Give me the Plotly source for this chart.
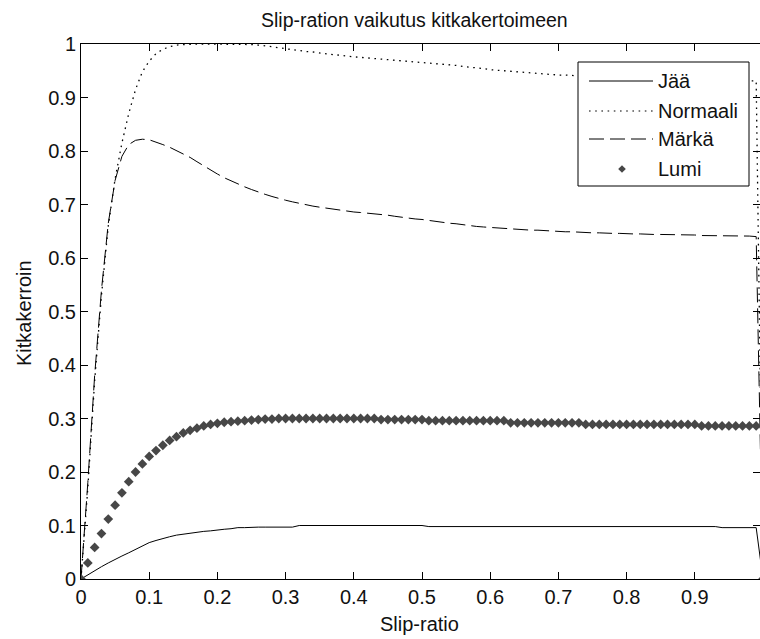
import plotly.graph_objects as go

# Slip ratio grid (0 ... 1, step 0.01)
slip = [
    0.00, 0.01, 0.02, 0.03, 0.04, 0.05, 0.06, 0.07, 0.08, 0.09,
    0.10, 0.11, 0.12, 0.13, 0.14, 0.15, 0.16, 0.17, 0.18, 0.19,
    0.20, 0.21, 0.22, 0.23, 0.24, 0.25, 0.26, 0.27, 0.28, 0.29,
    0.30, 0.31, 0.32, 0.33, 0.34, 0.35, 0.36, 0.37, 0.38, 0.39,
    0.40, 0.41, 0.42, 0.43, 0.44, 0.45, 0.46, 0.47, 0.48, 0.49,
    0.50, 0.51, 0.52, 0.53, 0.54, 0.55, 0.56, 0.57, 0.58, 0.59,
    0.60, 0.61, 0.62, 0.63, 0.64, 0.65, 0.66, 0.67, 0.68, 0.69,
    0.70, 0.71, 0.72, 0.73, 0.74, 0.75, 0.76, 0.77, 0.78, 0.79,
    0.80, 0.81, 0.82, 0.83, 0.84, 0.85, 0.86, 0.87, 0.88, 0.89,
    0.90, 0.91, 0.92, 0.93, 0.94, 0.95, 0.96, 0.97, 0.98, 0.99,
    1.00,
]

# Friction coefficient on ice
jaa = [
    0.000, 0.008, 0.016, 0.023, 0.030, 0.037, 0.043, 0.049, 0.055, 0.061,
    0.068, 0.072, 0.076, 0.079, 0.082, 0.084, 0.086, 0.088, 0.089, 0.090,
    0.092, 0.093, 0.094, 0.096, 0.096, 0.097, 0.097, 0.097, 0.097, 0.097,
    0.097, 0.097, 0.100, 0.100, 0.100, 0.100, 0.100, 0.100, 0.100, 0.100,
    0.100, 0.100, 0.100, 0.100, 0.100, 0.100, 0.100, 0.100, 0.100, 0.100,
    0.100, 0.098, 0.098, 0.098, 0.098, 0.098, 0.098, 0.098, 0.098, 0.098,
    0.098, 0.098, 0.098, 0.098, 0.098, 0.098, 0.098, 0.098, 0.098, 0.098,
    0.098, 0.098, 0.098, 0.098, 0.098, 0.098, 0.098, 0.098, 0.098, 0.098,
    0.098, 0.098, 0.098, 0.098, 0.098, 0.098, 0.098, 0.098, 0.098, 0.098,
    0.098, 0.098, 0.098, 0.098, 0.096, 0.096, 0.096, 0.096, 0.096, 0.096,
    0.000,
]

# Friction coefficient on dry asphalt
normaali = [
    0.000, 0.170, 0.370, 0.530, 0.660, 0.748, 0.815, 0.870, 0.915, 0.948,
    0.968, 0.982, 0.990, 0.995, 0.998, 0.999, 1.000, 1.000, 1.000, 1.000,
    1.000, 1.000, 1.000, 1.000, 1.000, 0.999, 0.998, 0.997, 0.995, 0.993,
    0.991, 0.989, 0.987, 0.986, 0.985, 0.983, 0.982, 0.980, 0.979, 0.977,
    0.976, 0.975, 0.974, 0.972, 0.971, 0.970, 0.969, 0.968, 0.967, 0.966,
    0.965, 0.964, 0.963, 0.962, 0.961, 0.960, 0.958, 0.957, 0.955, 0.954,
    0.952, 0.951, 0.950, 0.948, 0.947, 0.946, 0.945, 0.944, 0.943, 0.943,
    0.942, 0.942, 0.941, 0.940, 0.940, 0.939, 0.939, 0.938, 0.938, 0.937,
    0.937, 0.937, 0.936, 0.936, 0.936, 0.935, 0.935, 0.935, 0.934, 0.934,
    0.934, 0.933, 0.933, 0.933, 0.933, 0.932, 0.932, 0.932, 0.931, 0.931,
    0.000,
]

# Friction coefficient on wet asphalt
marka = [
    0.000, 0.180, 0.380, 0.540, 0.665, 0.745, 0.790, 0.812, 0.820, 0.822,
    0.821, 0.817, 0.812, 0.807, 0.801, 0.795, 0.788, 0.780, 0.772, 0.764,
    0.757, 0.750, 0.744, 0.738, 0.733, 0.728, 0.723, 0.719, 0.715, 0.711,
    0.708, 0.705, 0.702, 0.699, 0.697, 0.695, 0.693, 0.691, 0.689, 0.687,
    0.686, 0.685, 0.684, 0.683, 0.682, 0.680, 0.678, 0.676, 0.675, 0.673,
    0.672, 0.670, 0.669, 0.667, 0.665, 0.664, 0.662, 0.661, 0.659, 0.658,
    0.657, 0.656, 0.656, 0.655, 0.654, 0.653, 0.652, 0.652, 0.651, 0.650,
    0.650, 0.649, 0.649, 0.648, 0.648, 0.647, 0.647, 0.646, 0.646, 0.646,
    0.645, 0.645, 0.645, 0.644, 0.644, 0.644, 0.644, 0.643, 0.643, 0.643,
    0.643, 0.642, 0.642, 0.642, 0.642, 0.641, 0.641, 0.641, 0.641, 0.640,
    0.000,
]

# Friction coefficient on snow
lumi = [
    0.000, 0.030, 0.059, 0.085, 0.112, 0.138, 0.161, 0.182, 0.200, 0.215,
    0.229, 0.240, 0.250, 0.259, 0.266, 0.273, 0.278, 0.282, 0.286, 0.289,
    0.291, 0.293, 0.294, 0.295, 0.296, 0.297, 0.298, 0.299, 0.299, 0.300,
    0.300, 0.300, 0.300, 0.300, 0.300, 0.300, 0.300, 0.300, 0.300, 0.300,
    0.300, 0.300, 0.300, 0.300, 0.298, 0.298, 0.298, 0.298, 0.298, 0.298,
    0.298, 0.296, 0.296, 0.296, 0.296, 0.296, 0.296, 0.296, 0.296, 0.296,
    0.296, 0.296, 0.296, 0.292, 0.292, 0.292, 0.292, 0.292, 0.292, 0.292,
    0.292, 0.292, 0.292, 0.292, 0.289, 0.289, 0.289, 0.289, 0.289, 0.289,
    0.289, 0.289, 0.289, 0.289, 0.289, 0.289, 0.289, 0.289, 0.289, 0.289,
    0.289, 0.286, 0.286, 0.286, 0.286, 0.286, 0.286, 0.286, 0.286, 0.286,
    0.000,
]

legend_names = ["Jää", "Normaali", "Märkä", "Lumi"]

W, H = 760, 639
L, R, T, B = 81, 0, 44, 60
FONT = "Liberation Sans, Arial, Helvetica, sans-serif"
INK = "#111111"
MARK = "#474747"
DOT = "1.6px,4.6px"
DASH = "15px,6px"

fig = go.Figure()
fig.add_trace(go.Scatter(x=slip, y=jaa, mode="lines", name=legend_names[0],
                         line=dict(color="black", width=1)))
fig.add_trace(go.Scatter(x=slip, y=normaali, mode="lines", name=legend_names[1],
                         line=dict(color="black", width=1.3, dash=DOT)))
fig.add_trace(go.Scatter(x=slip, y=marka, mode="lines", name=legend_names[2],
                         line=dict(color="black", width=1, dash=DASH)))
fig.add_trace(go.Scatter(x=slip, y=lumi, mode="markers", name=legend_names[3],
                         marker=dict(symbol="diamond", size=7.5, color=MARK,
                                     line=dict(width=0))))

# pixel -> paper helpers for the hand-built legend box
pw, ph = W - L - R, H - T - B


def px_x(px):
    return (px - L) / pw


def px_y(py):
    return (H - B - py) / ph


shapes = [
    dict(type="rect", xref="paper", yref="paper",
         x0=px_x(578), x1=px_x(749), y0=px_y(186), y1=px_y(62),
         line=dict(color="black", width=1), fillcolor="white", layer="above"),
]
annotations = []
rows = [81, 111, 139, 169]
dashes = ["solid", DOT, DASH, None]
for name, yy, dsh in zip(legend_names, rows, dashes):
    if dsh is not None:
        shapes.append(dict(type="line", xref="paper", yref="paper",
                           x0=px_x(589), x1=px_x(653), y0=px_y(yy), y1=px_y(yy),
                           line=dict(color="black", width=1.2 if dsh == DOT else 1, dash=dsh),
                           layer="above"))
    else:
        cx, cy, r = 622, yy, 3.8
        path = "M {} {} L {} {} L {} {} L {} {} Z".format(
            px_x(cx), px_y(cy - r), px_x(cx + r), px_y(cy),
            px_x(cx), px_y(cy + r), px_x(cx - r), px_y(cy))
        shapes.append(dict(type="path", xref="paper", yref="paper", path=path,
                           fillcolor=MARK, line=dict(width=0), layer="above"))
    annotations.append(dict(text=name, xref="paper", yref="paper",
                            x=px_x(656), y=px_y(yy), xanchor="left", yanchor="middle",
                            showarrow=False, font=dict(family=FONT, size=20, color=INK)))

# title and axis titles
annotations.append(dict(text="Slip-ration vaikutus kitkakertoimeen", xref="paper", yref="paper",
                        x=px_x(414), y=px_y(20), xanchor="center", yanchor="middle",
                        showarrow=False, font=dict(family=FONT, size=19.5, color=INK)))
annotations.append(dict(text="Slip-ratio", xref="paper", yref="paper",
                        x=px_x(419), y=px_y(624), xanchor="center", yanchor="middle",
                        showarrow=False, font=dict(family=FONT, size=20, color=INK)))
annotations.append(dict(text="Kitkakerroin", xref="paper", yref="paper",
                        x=px_x(24), y=px_y(313), xanchor="center", yanchor="middle",
                        textangle=-90, showarrow=False,
                        font=dict(family=FONT, size=20, color=INK)))

axis_common = dict(showgrid=False, zeroline=False, showline=True, linecolor="black",
                   linewidth=1, ticks="inside", ticklen=7, tickcolor="black",
                   tickwidth=1, mirror="ticks",
                   tickfont=dict(family=FONT, size=20, color=INK))

fig.update_layout(
    width=W, height=H,
    margin=dict(l=L, r=R, t=T, b=B, pad=0),
    paper_bgcolor="white", plot_bgcolor="white",
    showlegend=False,
    shapes=shapes, annotations=annotations,
    xaxis=dict(range=[0, 679 / 682], tick0=0, dtick=0.1, **axis_common),
    yaxis=dict(range=[0, 1], tick0=0, dtick=0.1, **axis_common),
)

fig.write_html("out.html")
